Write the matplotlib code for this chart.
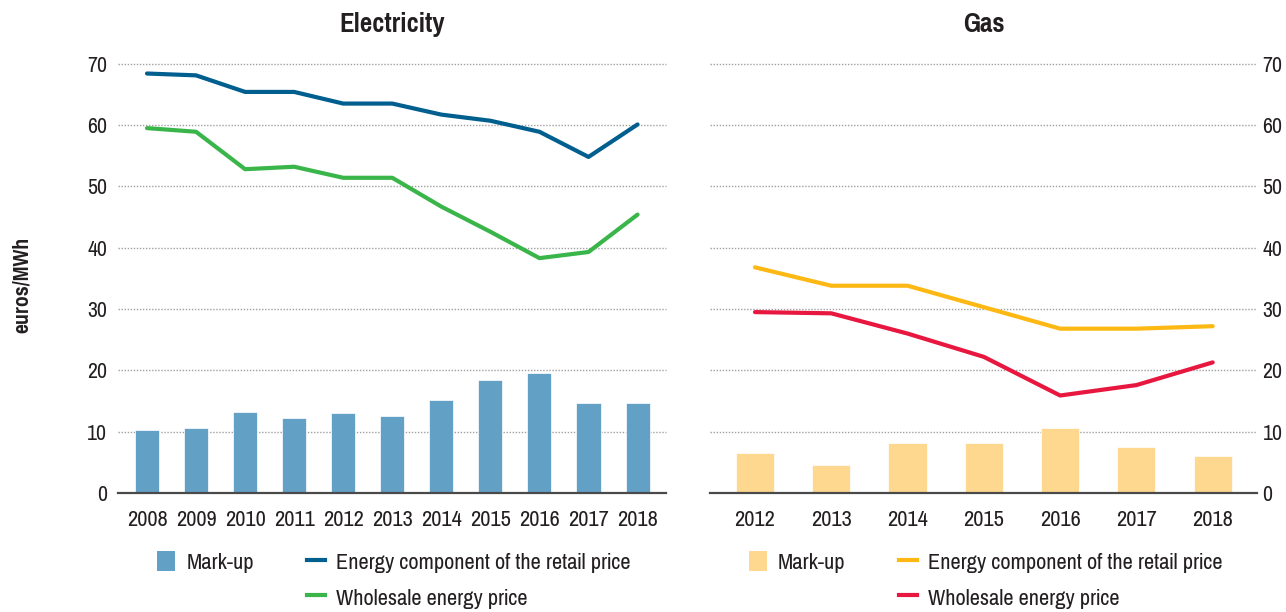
import matplotlib.pyplot as plt
import numpy as np
from matplotlib.lines import Line2D
from matplotlib.patches import Patch

plt.rcParams['font.family'] = ['Pragati Narrow', 'DejaVu Sans']

# Electricity, 2008-2018 (euros/MWh)
elec_years = ['2008', '2009', '2010', '2011', '2012', '2013', '2014', '2015', '2016', '2017', '2018']
elec_markup = [10.3, 10.6, 13.2, 12.2, 13.0, 12.6, 15.1, 18.5, 19.6, 14.6, 14.7]
elec_retail = [68.4, 68.1, 65.4, 65.4, 63.5, 63.5, 61.7, 60.7, 58.9, 54.8, 60.1]
elec_wholesale = [59.5, 58.9, 52.8, 53.2, 51.4, 51.4, 46.7, 42.6, 38.3, 39.3, 45.4]

# Gas, 2012-2018 (euros/MWh)
gas_years = ['2012', '2013', '2014', '2015', '2016', '2017', '2018']
gas_markup = [6.6, 4.6, 8.1, 8.1, 10.6, 7.5, 6.0]
gas_retail = [36.8, 33.8, 33.8, 30.3, 26.8, 26.8, 27.2]
gas_wholesale = [29.5, 29.3, 26.0, 22.2, 15.9, 17.6, 21.3]

TEXT = '#231f20'
GRID = '#a0a0a0'

fig = plt.figure(figsize=(12.86, 6.12), dpi=100)
ax1 = fig.add_axes([0.0918, 0.1944, 0.4261, 0.7015])
ax2 = fig.add_axes([0.5521, 0.1944, 0.4253, 0.7015])


def draw_panel(ax, years, markup, retail, wholesale, bar_col, retail_col, whole_col, title):
    x = np.arange(len(years))
    ax.set_ylim(0, 70)
    ax.set_xlim(-0.59, len(years) - 1 + 0.58)
    ax.set_yticks(range(0, 71, 10))
    for v in range(10, 71, 10):
        ax.axhline(v, color=GRID, lw=1.0, ls=(0, (1, 1.2)), zorder=0, clip_on=False)
    ax.bar(x, markup, width=0.49 if len(years) > 8 else 0.5, color=bar_col,
           edgecolor='white', linewidth=0.5, zorder=2)
    ax.plot(x, retail, color=retail_col, lw=3, zorder=3, solid_capstyle='round')
    ax.plot(x, wholesale, color=whole_col, lw=3, zorder=3, solid_capstyle='round')
    ax.set_xticks(x)
    ax.set_xticklabels(years, fontsize=17.5, color=TEXT)
    ax.tick_params(axis='x', length=0, pad=12)
    ax.tick_params(axis='y', length=0, labelsize=17, labelcolor=TEXT)
    for s in ['top', 'left', 'right']:
        ax.spines[s].set_visible(False)
    ax.spines['bottom'].set_color('#4a4a4a')
    ax.spines['bottom'].set_linewidth(1.6)
    ax.set_title(title, fontsize=21, fontweight='bold', color=TEXT, pad=23)

    handles = [Patch(facecolor=bar_col, edgecolor='none'),
               Line2D([], [], color='none'),
               Line2D([], [], color=retail_col, lw=3),
               Line2D([], [], color=whole_col, lw=3)]
    labels = ['Mark-up', '', 'Energy component of the retail price', 'Wholesale energy price']
    ax.legend(handles, labels, ncol=2, loc='upper left', bbox_to_anchor=(0.071, -0.135),
              frameon=False, fontsize=17.5, handlelength=0.75, handleheight=0.9,
              handletextpad=0.45, columnspacing=2.2, labelspacing=0.52, borderpad=0,
              borderaxespad=0, labelcolor=TEXT)


draw_panel(ax1, elec_years, elec_markup, elec_retail, elec_wholesale,
           '#63a0c6', '#005f8f', '#3ab54a', 'Electricity')
ax1.yaxis.set_tick_params(pad=8)

draw_panel(ax2, gas_years, gas_markup, gas_retail, gas_wholesale,
           '#fdd88e', '#fdb813', '#e8173f', 'Gas')
ax2.yaxis.tick_right()
ax2.yaxis.set_tick_params(pad=4)

fig.text(0.017, 0.534, 'euros/MWh', rotation=90, ha='center', va='center',
         fontsize=17, fontweight='bold', color=TEXT)

fig.savefig('out.png', dpi=100)
